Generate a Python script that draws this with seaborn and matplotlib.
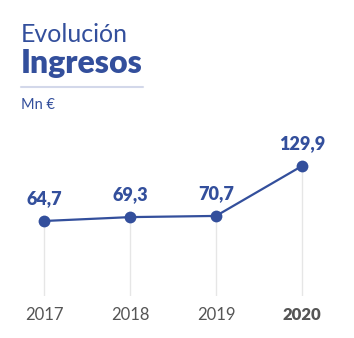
import matplotlib
matplotlib.use("Agg")
import matplotlib.pyplot as plt
import seaborn as sns
import pandas as pd
from matplotlib.lines import Line2D

years = ["2017", "2018", "2019", "2020"]
values = [64.7, 69.3, 70.7, 129.9]
labels = ["64,7", "69,3", "70,7", "129,9"]

sns.set_style("white")
plt.rcParams['font.family'] = ['Lato', 'DejaVu Sans']

BLUE = "#334f9c"
W, H = 354, 338
fig = plt.figure(figsize=(W/100, H/100), dpi=100)
fig.patch.set_facecolor("white")

# axes: x from 1 to 345 px, y from 140 to 296 px (top-down)
ax = fig.add_axes([1/W, 1 - 296/H, 344/W, 156/H])
df = pd.DataFrame({"year": years, "value": values, "idx": range(len(years))})

ax.set_xlim(-0.5, 3.5)
ax.set_ylim(-24.2, 160.7)

for i, v in enumerate(values):
    ax.vlines(i, -24.2, v, color="#e6e6e6", lw=1.0, zorder=1)

sns.lineplot(data=df, x="idx", y="value", ax=ax, color=BLUE, lw=1.6,
             marker="o", markersize=8.5, markeredgewidth=0, zorder=3)

for i, (v, lab) in enumerate(zip(values, labels)):
    ax.annotate(lab, (i, v), xytext=(0, 10), textcoords="offset points",
                ha="center", va="bottom", color=BLUE, fontsize=13,
                fontweight="heavy")

ax.set_xticks(range(len(years)))
ax.set_xticklabels(years)
for t, lab in zip(ax.get_xticklabels(), years):
    t.set_color("#555555")
    t.set_fontsize(12)
    if lab == "2020":
        t.set_fontweight("heavy")
ax.tick_params(axis="x", length=0, pad=8)
ax.set_yticks([])
ax.set_xlabel("")
ax.set_ylabel("")
for s in ax.spines.values():
    s.set_visible(False)
ax.patch.set_alpha(0)

fig.text(21/W, 1 - 34/H, "Evolución", color=BLUE, fontsize=18,
         fontweight="normal", ha="left", va="center")
fig.text(21/W, 1 - 63/H, "Ingresos", color=BLUE, fontsize=23,
         fontweight="heavy", ha="left", va="center")
fig.add_artist(Line2D([21/W, 143/W], [1 - 87/H, 1 - 87/H], color="#d3d8ea",
                      lw=1.5, transform=fig.transFigure))
fig.text(21/W, 1 - 105/H, "Mn €", color=BLUE, fontsize=10.5,
         ha="left", va="center")

fig.savefig("out.png", dpi=100, facecolor="white")
